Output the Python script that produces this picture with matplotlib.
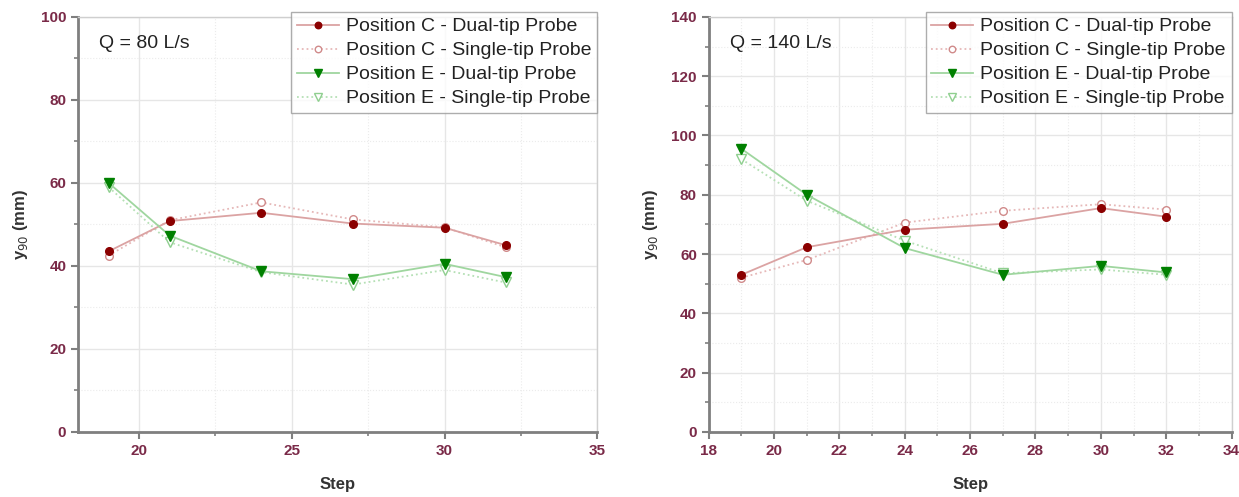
import matplotlib
matplotlib.use("Agg")
import matplotlib.pyplot as plt
from matplotlib.ticker import MultipleLocator

plt.rcParams["font.family"] = ["Liberation Sans", "DejaVu Sans"]

# dados
steps = [19, 21, 24, 27, 30, 32]

# Q = 80 L/s
c_dual_80 = [43.5, 50.8, 52.8, 50.2, 49.2, 45.0]
c_single_80 = [42.5, 51.0, 55.3, 51.2, 49.3, 44.5]
e_dual_80 = [60.0, 47.3, 38.7, 36.8, 40.5, 37.3]
e_single_80 = [59.0, 45.7, 38.5, 35.5, 39.0, 36.0]

# Q = 140 L/s
c_dual_140 = [53.0, 62.3, 68.2, 70.2, 75.5, 72.6]
c_single_140 = [52.0, 58.0, 70.6, 74.6, 76.8, 75.0]
e_dual_140 = [95.5, 80.0, 62.0, 53.0, 56.0, 53.8]
e_single_140 = [92.0, 78.0, 64.5, 53.5, 54.8, 53.0]

labels = [
    "Position C - Dual-tip Probe",
    "Position C - Single-tip Probe",
    "Position E - Dual-tip Probe",
    "Position E - Single-tip Probe",
]

tick_cor = "#7a2a48"
eixo_cor = "#7f7f7f"


def desenhar(ax, series, titulo, xlim, xmaj, xmin, ylim, ymaj, ymin):
    c_dual, c_single, e_dual, e_single = series
    ax.plot(steps, c_dual, "-", color="#dba3a3", lw=1.3, marker="o", ms=5.5,
            mfc="#8b0000", mec="#8b0000", label=labels[0], zorder=4)
    ax.plot(steps, c_single, ":", color="#e6b8b8", lw=1.3, marker="o", ms=5.5,
            mfc="white", mec="#d08a8a", label=labels[1], zorder=3)
    ax.plot(steps, e_dual, "-", color="#9fd69f", lw=1.3, marker="v", ms=6.5,
            mfc="#008000", mec="#008000", label=labels[2], zorder=4)
    ax.plot(steps, e_single, ":", color="#b5e0b5", lw=1.3, marker="v", ms=6.5,
            mfc="white", mec="#8fcf8f", label=labels[3], zorder=3)

    ax.set_xlim(*xlim)
    ax.set_ylim(*ylim)
    ax.xaxis.set_major_locator(MultipleLocator(xmaj))
    ax.xaxis.set_minor_locator(MultipleLocator(xmin))
    ax.yaxis.set_major_locator(MultipleLocator(ymaj))
    ax.yaxis.set_minor_locator(MultipleLocator(ymin))
    ax.grid(which="major", color="#e6e6e6", lw=1.0)
    ax.grid(which="minor", color="#ebebeb", lw=0.8, linestyle=":")
    ax.set_axisbelow(True)

    for lado in ["top", "right"]:
        ax.spines[lado].set_color("#cfcfcf")
        ax.spines[lado].set_linewidth(1.0)
    for lado in ["left", "bottom"]:
        ax.spines[lado].set_color(eixo_cor)
        ax.spines[lado].set_linewidth(2.0)

    ax.tick_params(which="major", direction="out", length=5, width=1.5,
                   color=eixo_cor, labelsize=11, labelcolor=tick_cor)
    ax.tick_params(which="minor", direction="out", length=3, width=1.2,
                   color=eixo_cor)
    for t in ax.get_xticklabels() + ax.get_yticklabels():
        t.set_fontweight("bold")

    ax.set_xlabel("Step", fontsize=12, fontweight="bold", color="#333333",
                  labelpad=14)
    ax.set_ylabel("y$_{90}$ (mm)", fontsize=12, fontweight="bold",
                  color="#333333", labelpad=8)
    ax.text(0.04, 0.935, titulo, transform=ax.transAxes, fontsize=14,
            color="#222222", va="center", ha="left")

    leg = ax.legend(loc="upper right", bbox_to_anchor=(1.0, 1.012),
                    fontsize=14, frameon=True, fancybox=False,
                    edgecolor="#999999", borderpad=0.3, handlelength=2.15,
                    handletextpad=0.36, labelspacing=0.33, borderaxespad=0.0,
                    markerscale=0.85)
    leg.get_frame().set_linewidth(1.0)
    for t in leg.get_texts():
        t.set_color("#222222")


fig = plt.figure(figsize=(12.39, 4.97), dpi=100)
ax1 = fig.add_axes([0.063, 0.131, 0.419, 0.835])
ax2 = fig.add_axes([0.572, 0.131, 0.422, 0.835])

desenhar(ax1, (c_dual_80, c_single_80, e_dual_80, e_single_80), "Q = 80 L/s",
         (18, 35), 5, 2.5, (0, 100), 20, 10)
desenhar(ax2, (c_dual_140, c_single_140, e_dual_140, e_single_140),
         "Q = 140 L/s", (18, 34), 2, 1, (0, 140), 20, 10)

fig.savefig("out.png", dpi=100)
plt.close(fig)
